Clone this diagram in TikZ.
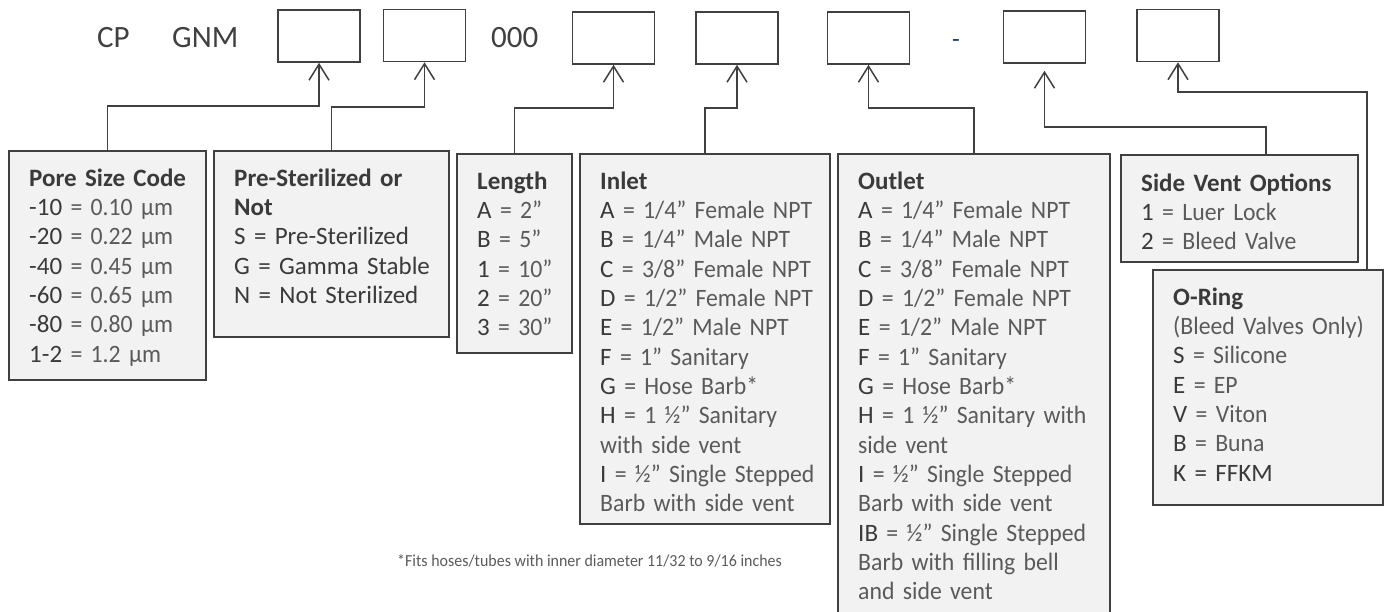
\documentclass[tikz,border=0pt]{standalone}
\usepackage{fontspec}
\setmainfont{Carlito}
\newfontfamily\lightfont{Carlito}[FakeStretch=0.95]
\usetikzlibrary{arrows.meta}

\definecolor{linegray}{HTML}{404040}
\definecolor{boxgray}{HTML}{F2F2F2}
\definecolor{codecol}{HTML}{3A3A3A}
\definecolor{valcol}{HTML}{5A5A5A}
\definecolor{dashblue}{HTML}{1F3864}
\newcommand{\kcode}[1]{{\rmfamily\color{codecol}#1}}
\newcommand{\ktitle}[1]{{\rmfamily\bfseries\color{codecol}#1}}
\newcommand{\legfont}{\lightfont\fontsize{25}{29.35}\selectfont\spaceskip=4.2pt\relax}

\begin{document}
\begin{tikzpicture}[x=1pt, y=-1pt,
    slot/.style={draw=linegray, line width=1.6pt, minimum width=82pt, minimum height=52pt, inner sep=0pt},
    legend/.style={draw=linegray, fill=boxgray, line width=2pt, anchor=north west, inner sep=0pt},
    legtext/.style={anchor=base west, xshift=21pt, yshift=-36pt, inner sep=0pt, text width=300pt,
      align=left, text=valcol, font=\legfont},
    toptext/.style={anchor=base west, inner sep=0pt, text=linegray, font=\fontsize{31}{37}\selectfont},
    conn/.style={draw=linegray, line width=1.5pt, -{Straight Barb[length=16pt, width=20pt]}}]
    \useasboundingbox (0,0) rectangle (1388,611);
    \clip (0,0) rectangle (1388,611);

    % part number line
    \node[toptext] (cp) at (97,47) {CP};
    \node[toptext] (gnm) at (172,47) {GNM};
    \node[toptext] (zeros) at (491,47) {000};
    \node[toptext, text=dashblue, font=\fontsize{25}{30}\selectfont, anchor=base] (dash) at (956,47) {-};
    \foreach \i/\x/\y in {1/319/36, 2/424.5/35.5, 3/613.5/38, 4/737/38, 5/868.5/38, 6/1044.5/37, 7/1178/35.5}
      \node[slot] (s\i) at (\x,\y) {};

    % option boxes
    \node[legend, minimum width=197pt, minimum height=229pt] (pore) at (8,150) {};
    \node[legend, minimum width=235pt, minimum height=186pt] (steril) at (213,150) {};
    \node[legend, minimum width=115pt, minimum height=199pt] (len) at (456,153) {};
    \node[legend, minimum width=250pt, minimum height=370pt] (inlet) at (579,153) {};
    \node[legend, minimum width=272pt, minimum height=480pt] (outlet) at (837,153) {};
    \node[legend, minimum width=237pt, minimum height=107pt] (vent) at (1120,154) {};
    \node[legend, minimum width=230pt, minimum height=235pt] (ring) at (1152,269) {};

    \node[legtext] at (pore.north west) {\ktitle{Pore Size Code}\\
      \kcode{-10} = 0.10 µm\\ \kcode{-20} = 0.22 µm\\ \kcode{-40} = 0.45 µm\\
      \kcode{-60} = 0.65 µm\\ \kcode{-80} = 0.80 µm\\ \kcode{1-2} = 1.2 µm};
    \node[legtext] at (steril.north west) {\ktitle{Pre-Sterilized or}\\ \ktitle{Not}\\
      \kcode{S = Pre-Sterilized}\\ \kcode{G = Gamma Stable}\\ \kcode{N = Not Sterilized}};
    \node[legtext] at (len.north west) {\ktitle{Length}\\
      \kcode{A} = 2”\\ \kcode{B} = 5”\\ \kcode{1} = 10”\\ \kcode{2} = 20”\\ \kcode{3} = 30”};
    \node[legtext] at (inlet.north west) {\ktitle{Inlet}\\
      \kcode{A} = 1/4” Female NPT\\ \kcode{B} = 1/4” Male NPT\\ \kcode{C} = 3/8” Female NPT\\
      \kcode{D} = 1/2” Female NPT\\ \kcode{E} = 1/2” Male NPT\\ \kcode{F} = 1” Sanitary\\
      \kcode{G} = Hose Barb*\\ \kcode{H} = 1 ½” Sanitary\\ with side vent\\
      \kcode{I} = ½” Single Stepped\\ Barb with side vent};
    \node[legtext] at (outlet.north west) {\ktitle{Outlet}\\
      \kcode{A} = 1/4” Female NPT\\ \kcode{B} = 1/4” Male NPT\\ \kcode{C} = 3/8” Female NPT\\
      \kcode{D} = 1/2” Female NPT\\ \kcode{E} = 1/2” Male NPT\\ \kcode{F} = 1” Sanitary\\
      \kcode{G} = Hose Barb*\\ \kcode{H} = 1 ½” Sanitary with\\ side vent\\
      \kcode{I} = ½” Single Stepped\\ Barb with side vent\\
      \kcode{IB} = ½” Single Stepped\\ Barb with filling bell\\ and side vent};
    \node[legtext, yshift=-1pt] at (vent.north west) {\ktitle{Side Vent Options}\\
      \kcode{1} = Luer Lock\\ \kcode{2} = Bleed Valve};
    \node[legtext] at (ring.north west) {\ktitle{O-Ring}\\ (Bleed Valves Only)\\
      \kcode{S} = Silicone\\ \kcode{E} = EP\\ \kcode{V} = Viton\\ \kcode{B} = Buna\\ \kcode{K = FFKM}};

    \node[anchor=base west, inner sep=0pt, text=valcol, font=\lightfont\fontsize{16.8}{19}\selectfont] (note) at (397,566)
      {*Fits hoses/tubes with inner diameter 11/32 to 9/16 inches};

    % connectors
    \foreach \src/\dst/\lev in {pore/s1/106, steril/s2/107, len/s3/108, inlet/s4/108, outlet/s5/108}
      \draw[conn] (\src.north) -- (\src.north |- 0,\lev) -| (\dst.south);
    \coordinate (ventup) at (1266,154);
    \coordinate (ringup) at (1367,269);
    \draw[conn, shorten >=7pt] (ventup) -- (ventup |- 0,127) -| (s6.south);
    \draw[conn] (ringup) -- (ringup |- 0,92) -| (s7.south);
\end{tikzpicture}
\end{document}
